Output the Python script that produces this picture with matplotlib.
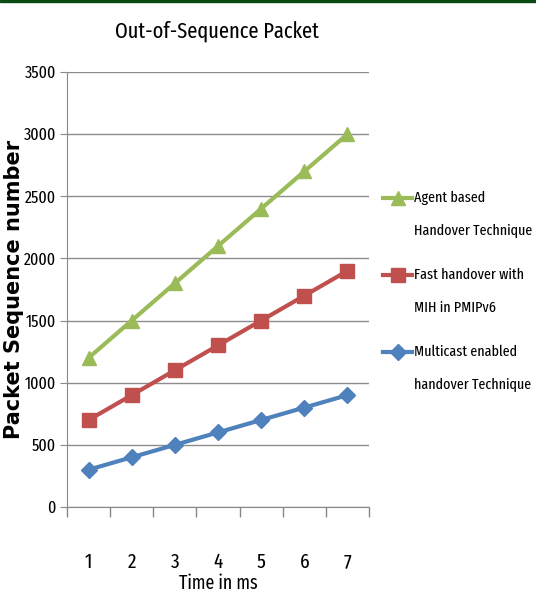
import matplotlib
matplotlib.use("Agg")
import matplotlib.pyplot as plt
from matplotlib.lines import Line2D
from matplotlib import font_manager

available = {f.name for f in font_manager.fontManager.ttflist}
body_font = next(n for n in ["Fira Sans Extra Condensed", "Roboto Condensed",
                             "Open Sans Condensed", "DejaVu Sans"] if n in available)
plt.rcParams['font.family'] = [body_font, 'DejaVu Sans']

time_ms = [1, 2, 3, 4, 5, 6, 7]
agent_based = [1200, 1500, 1800, 2100, 2400, 2700, 3000]
fast_mih = [700, 900, 1100, 1300, 1500, 1700, 1900]
multicast = [300, 400, 500, 600, 700, 800, 900]

series_names = [("Agent based", "Handover Technique"),
                ("Fast handover with", "MIH in PMIPv6"),
                ("Multicast enabled", "handover Technique")]
colors = ["#9BBB59", "#C0504D", "#4F81BD"]
markers = ["^", "s", "D"]
marker_sizes = [10.5, 10, 8.5]

W, H = 536, 595
fig = plt.figure(figsize=(W / 100, H / 100), dpi=100)
ax = fig.add_axes([67 / W, 1 - 507 / H, 302 / W, 435 / H])

for vals, c, m, ms in zip([agent_based, fast_mih, multicast], colors, markers, marker_sizes):
    ax.plot(time_ms, vals, color=c, lw=3, marker=m, ms=ms, mec=c, mfc=c, zorder=3)

ax.set_ylim(0, 3500)
ax.set_yticks(range(0, 3501, 500))
ax.set_xlim(0.5, 7.5)
ax.set_xticks(time_ms)
ax.set_xticks([x + 0.5 for x in range(0, 8)], minor=True)
ax.tick_params(axis='x', which='major', length=0, pad=33, labelsize=15)
ax.tick_params(axis='x', which='minor', length=7, color="#888888", width=1)
ax.tick_params(axis='y', length=5, color="#888888", labelsize=12.5, pad=3)
ax.grid(axis='y', color="#8c8c8c", lw=1)
ax.set_axisbelow(True)
for s in ["top", "right"]:
    ax.spines[s].set_visible(False)
for s in ["left", "bottom"]:
    ax.spines[s].set_color("#888888")

ax.set_xlabel("Time in ms", fontsize=14, labelpad=1)
ax.set_ylabel("Packet Sequence number", fontsize=15, fontweight="bold",
              family="DejaVu Sans")
ax.yaxis.set_label_coords((24 - 67) / 302, 0.5)
fig.text(217 / W, 1 - 31 / H, "Out-of-Sequence Packet", fontsize=16, ha="center",
         va="center")

# legend: swatch beside the first line of each two-line label
first_line_y = [198, 275, 352]
line_gap = 33
for (l1, l2), c, m, ms, yp in zip(series_names, colors, markers, marker_sizes, first_line_y):
    yf = 1 - yp / H
    fig.add_artist(Line2D([383 / W, 397.5 / W, 412 / W], [yf, yf, yf], color=c, lw=3,
                          marker=m, ms=ms, mec=c, mfc=c, markevery=[1],
                          transform=fig.transFigure))
    fig.text(414 / W, yf, l1, fontsize=11, ha="left", va="center")
    fig.text(414 / W, 1 - (yp + line_gap) / H, l2, fontsize=11, ha="left", va="center")

# thin header band along the top edge
fig.patches.append(plt.Rectangle((0, 0.996), 1, 0.004, transform=fig.transFigure,
                                 color="#0b4a12", zorder=10))

fig.savefig("out.png", dpi=100)
